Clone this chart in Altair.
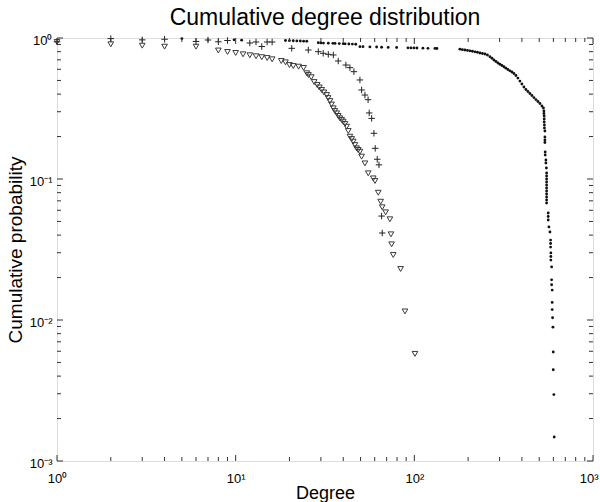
import altair as alt
import pandas as pd

# ---------------- data ----------------
plus_degree = [1, 2, 3, 4, 6, 7, 8, 9, 12, 13, 14, 15, 16, 20.6, 25.5, 29, 30.9, 33, 35.2, 37.5,
               41.4, 43.6, 45.9, 49.6, 50.7, 52.9, 55.1, 55.9, 57.7, 59.4, 60.4, 62.0, 63.4, 65.6, 66.1]
plus_prob = [0.94, 0.99, 0.97, 0.98, 0.945, 0.968, 0.94, 0.96, 0.922, 0.937, 0.87, 0.937, 0.937,
             0.845, 0.822, 0.80, 0.779, 0.766, 0.758, 0.687, 0.643, 0.616, 0.577, 0.504, 0.428,
             0.394, 0.365, 0.294, 0.269, 0.211, 0.165, 0.138, 0.126, 0.0546, 0.0414]

tri_degree = [1, 2, 3, 4, 6, 8, 9, 10, 11, 12, 13, 14, 15, 16, 18, 19, 20, 21, 22.5, 24,
              25, 25.55, 26.5, 27.5, 28.6, 29.4, 30.3, 31.2, 32.3, 32.9, 33.7, 34.4, 35.2, 35.9,
              36.8, 37.5, 38.3, 39.2, 40.0, 40.9, 41.8, 42.7, 43.6, 44.6, 45.5, 46.5, 47.5, 48.5,
              49.6, 50.7, 52.9, 55.2, 58.9, 60.2, 62.8, 64.8, 66.1, 69.1, 73.0, 74.0, 74.6, 76.2,
              83.8, 88.6, 100.8]
tri_prob = [0.937, 0.902, 0.882, 0.868, 0.868, 0.815, 0.796, 0.783, 0.766, 0.754, 0.742, 0.731,
            0.721, 0.706, 0.687, 0.672, 0.643, 0.633, 0.626, 0.613,
            0.562, 0.546, 0.527, 0.487, 0.464, 0.446, 0.428, 0.411, 0.394, 0.375, 0.357, 0.3375,
            0.317, 0.3035, 0.292, 0.280, 0.2694, 0.262, 0.255, 0.2455, 0.235, 0.219, 0.1995,
            0.192, 0.184, 0.174, 0.165, 0.1606, 0.156, 0.144, 0.129, 0.1097, 0.101, 0.0968,
            0.0799, 0.069, 0.063, 0.058, 0.0518, 0.0405, 0.0344, 0.0289, 0.0230, 0.0115, 0.00575]

dot_degree = [5, 9.8, 10.8, 19, 20, 21, 22, 23, 24, 25, 29, 30, 31, 33, 35, 36, 38, 40, 41, 43, 45, 47,
              49.6, 51.6, 56.4, 61.5, 65.6, 71.4, 79.6, 92.1, 95.7, 99.5, 103.4, 111.7, 119.2, 130.4, 133.8,
              179.9, 185.8, 192.0, 198.3, 204.8, 211.4, 218.3, 225.5, 232.8, 240.5, 248.4, 256.5,
              264.9, 271.8, 278.9, 286.2, 293.7, 301.3, 309.2, 317.2, 325.5, 334.0, 342.7, 351.7,
              360.9, 370.3, 379.9, 389.9, 400.0, 410.5, 421.2, 432.2, 443.5, 455.1, 467.0, 479.2,
              491.7, 504.6, 517.7, 527.8,
              531.2, 531.2, 533, 533, 533, 534.6, 534.6, 538, 538, 538, 538, 540, 540, 545, 545, 548.4,
              550, 550, 550, 550, 550, 550, 550, 550, 550, 550, 550,
              561.5, 561.5, 561.5, 566.6, 574, 579, 579, 579, 581, 581, 581, 586.6, 586.6, 586.6,
              591, 591, 591, 594, 596.6, 599, 599, 604, 606.6]
dot_prob = [0.99, 0.97, 0.965, 0.96, 0.958, 0.956, 0.954, 0.952, 0.95, 0.948, 0.925, 0.923, 0.921,
            0.919, 0.917, 0.915, 0.913, 0.911, 0.909, 0.907, 0.905, 0.903,
            0.868, 0.868, 0.865, 0.863, 0.86, 0.858, 0.856, 0.852, 0.851, 0.85, 0.849, 0.847, 0.845,
            0.843, 0.842,
            0.833, 0.827, 0.822, 0.817, 0.811, 0.805, 0.798, 0.792, 0.783, 0.776, 0.770, 0.758,
            0.737, 0.718, 0.698, 0.681, 0.665, 0.651, 0.638, 0.625, 0.611, 0.598, 0.585, 0.574,
            0.560, 0.542, 0.520, 0.495, 0.472, 0.449, 0.431, 0.4174, 0.404, 0.391, 0.378, 0.366,
            0.3544, 0.343, 0.3295, 0.3188,
            0.3035, 0.2914, 0.2797, 0.2663, 0.2536, 0.2415, 0.2300, 0.2190, 0.1986, 0.1891, 0.1815,
            0.1554, 0.1480, 0.1364, 0.1299, 0.1197,
            0.1103, 0.1050, 0.1000, 0.0952, 0.0907, 0.0863, 0.0822, 0.0783, 0.0745, 0.0710, 0.0676,
            0.0574, 0.0542, 0.0512, 0.0457, 0.0421, 0.0369, 0.0349, 0.0329, 0.0299, 0.0282, 0.0266,
            0.0238, 0.01926, 0.01778, 0.0163, 0.01333, 0.01185, 0.01037, 0.00889, 0.00593,
            0.00444, 0.00296, 0.00148]

x_major = [1, 10, 100, 1000]
x_major_labels = ["10⁰", "10¹", "10²", "10³"]
y_major = [0.001, 0.01, 0.1, 1]
y_major_labels = ["10⁻³", "10⁻²", "10⁻¹", "10⁰"]
x_minor = [2, 3, 4, 5, 6, 7, 8, 9, 20, 30, 40, 50, 60, 70, 80, 90, 200, 300, 400, 500, 600, 700, 800, 900]
y_minor = [0.002, 0.003, 0.004, 0.005, 0.006, 0.007, 0.008, 0.009,
           0.02, 0.03, 0.04, 0.05, 0.06, 0.07, 0.08, 0.09,
           0.2, 0.3, 0.4, 0.5, 0.6, 0.7, 0.8, 0.9]

# ---------------- chart ----------------
W, H = 536, 423
FONT = "Liberation Sans"
INK = "#222222"
xs = alt.Scale(type="log", domain=[1, 1000], nice=False)
ys = alt.Scale(type="log", domain=[0.001, 1], nice=False)


def label_expr(vals, labels):
    parts = [f"datum.value == {v} ? '{l}'" for v, l in zip(vals, labels)]
    return " : ".join(parts) + " : ''"


last_x = x_major[-1]
x_axis = alt.Axis(values=x_major, labelExpr=label_expr(x_major, x_major_labels), tickSize=0,
                  domain=False, grid=False, labelPadding=11, labelFlush=False, labelFont=FONT,
                  labelFontSize=13, labelColor="black",
                  labelAlign=alt.ExprRef(expr=f"datum.value == {last_x} ? 'right' : 'center'"),
                  labelOffset=alt.ExprRef(expr=f"datum.value == {last_x} ? 5 : 0"),
                  title="Degree", titleFont=FONT,
                  titleFontSize=18, titleFontWeight="normal", titleColor="black",
                  titleBaseline="alphabetic", titleY=37)
y_axis = alt.Axis(values=y_major, labelExpr=label_expr(y_major, y_major_labels), tickSize=0,
                  domain=False, grid=False, labelPadding=5, labelFlush=False, labelFont=FONT,
                  labelFontSize=13, labelColor="black", labelOffset=2, title="Cumulative probability",
                  titleFont=FONT, titleFontSize=19, titleFontWeight="normal", titleColor="black",
                  titlePadding=4)

tri_df = pd.DataFrame({"degree": tri_degree, "prob": tri_prob})
plus_df = pd.DataFrame({"degree": plus_degree, "prob": plus_prob})
dot_df = pd.DataFrame({"degree": dot_degree, "prob": dot_prob})

X = alt.X("degree:Q", scale=xs, axis=x_axis)
Y = alt.Y("prob:Q", scale=ys, axis=y_axis)

tri = alt.Chart(tri_df).mark_point(shape="triangle-down", filled=False, size=32, stroke="#3a3a3a",
                                   strokeWidth=1, opacity=1).encode(x=X, y=Y)
plus = alt.Chart(plus_df).mark_point(shape="M-1,0L1,0M0,-1L0,1", filled=False, size=42, stroke=INK,
                                     strokeWidth=1, opacity=1).encode(x=X, y=Y)
dots = alt.Chart(dot_df).mark_point(shape="circle", filled=True, size=8, color="#111111",
                                    opacity=1).encode(x=X, y=Y)


def xticks(vals, length, top):
    df = pd.DataFrame({"degree": vals})
    return alt.Chart(df).mark_rule(color="#333333", strokeWidth=1).encode(
        x=X,
        y=alt.value(0 if top else H),
        y2=alt.value(length if top else H - length),
    )


def yticks(vals, length, right):
    df = pd.DataFrame({"prob": vals})
    return alt.Chart(df).mark_rule(color="#333333", strokeWidth=1).encode(
        y=Y,
        x=alt.value(W if right else 0),
        x2=alt.value(W - length if right else length),
    )


ticks = [xticks(x_major, 6, False), xticks(x_major, 6, True), xticks(x_minor, 4, False), xticks(x_minor, 4, True),
         yticks(y_major, 6, False), yticks(y_major, 6, True), yticks(y_minor, 4, False), yticks(y_minor, 4, True)]

chart = alt.layer(tri, plus, dots, *ticks).properties(
    width=W, height=H,
    title=alt.TitleParams(text="Cumulative degree distribution", font=FONT, fontSize=23,
                          fontWeight="normal", color="black", anchor="middle", offset=3),
    autosize=alt.AutoSizeParams(type="none"),
    padding={"left": 57, "top": 38, "right": 7, "bottom": 41},
).configure_view(stroke="#333333", strokeWidth=1).configure(background="white")

chart.save("out.html", embed_options={"renderer": "svg", "actions": False})
